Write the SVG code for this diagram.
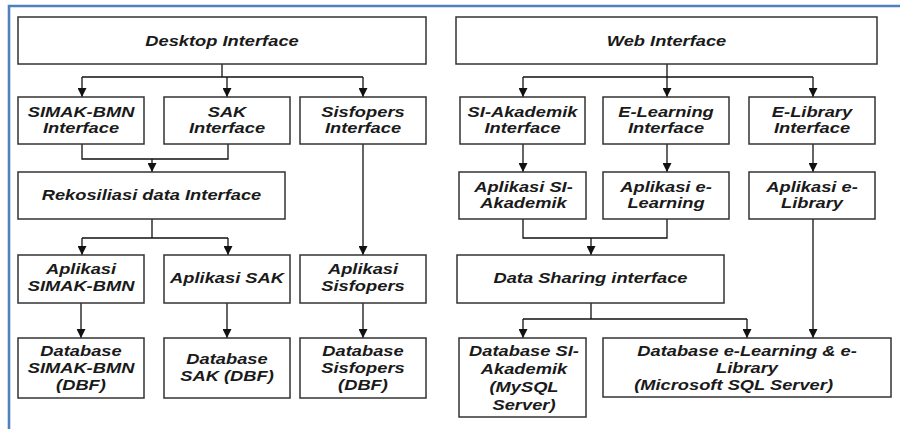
<svg xmlns="http://www.w3.org/2000/svg" width="900" height="429" viewBox="0 0 900 429">
<style>
.box{fill:#fff;stroke:#333;stroke-width:1.5}
.t{font-family:"Liberation Sans",Arial,sans-serif;font-size:15px;font-weight:bold;font-style:italic;fill:#1a1a1a;text-anchor:middle}
.c{fill:none;stroke:#111;stroke-width:1.3}
.a{fill:none;stroke:#111;stroke-width:1.3;marker-end:url(#ah)}
</style>
<defs>
<marker id="ah" markerUnits="userSpaceOnUse" markerWidth="9" markerHeight="9" refX="9" refY="4.5" orient="auto">
<path d="M0,0 L9,4.5 L0,9 z" fill="#111"/>
</marker>
</defs>
<rect width="900" height="429" fill="#fff"/>
<g id="frame">
<path d="M9,429 V6 H900" fill="none" stroke="#4f81bd" stroke-width="2.6"/>
</g>
<g id="connectors">
<path class="c" d="M222,64 V77 M82,77 H363"/>
<path class="a" d="M82,77 V97"/>
<path class="a" d="M227,77 V97"/>
<path class="a" d="M363,77 V97"/>
<path class="c" d="M82,144 V159 H228 V144"/>
<path class="a" d="M152,159 V172"/>
<path class="c" d="M152,219 V238 M82,238 H228"/>
<path class="a" d="M82,238 V255"/>
<path class="a" d="M228,238 V255"/>
<path class="a" d="M363,144 V255"/>
<path class="a" d="M81,303 V338"/>
<path class="a" d="M227,303 V338"/>
<path class="a" d="M363,303 V338"/>
<path class="c" d="M667,64 V77 M523,77 H813"/>
<path class="a" d="M523,77 V97"/>
<path class="a" d="M667,77 V97"/>
<path class="a" d="M813,77 V97"/>
<path class="a" d="M523,144 V172"/>
<path class="a" d="M667,144 V172"/>
<path class="a" d="M813,144 V172"/>
<path class="c" d="M523,219 V238 H667 V219"/>
<path class="a" d="M591,238 V255"/>
<path class="a" d="M813,219 V338"/>
<path class="c" d="M591,303 V319 M523,319 H747"/>
<path class="a" d="M523,319 V338"/>
<path class="a" d="M747,319 V338"/>
</g>
<g id="desktop">
<rect class="box" x="18" y="17" width="408" height="47"/>
<text class="t" transform="translate(222 46) scale(1.22 1)">Desktop Interface</text>
</g>
<g id="simak_if">
<rect class="box" x="18" y="97" width="126" height="47"/>
<text class="t" transform="translate(81 117) scale(1.22 1)"><tspan x="0">SIMAK-BMN</tspan><tspan x="0" dy="16.5">Interface</tspan></text>
</g>
<g id="sak_if">
<rect class="box" x="164" y="97" width="126" height="47"/>
<text class="t" transform="translate(227 117) scale(1.22 1)"><tspan x="0">SAK</tspan><tspan x="0" dy="16.5">Interface</tspan></text>
</g>
<g id="sisfopers_if">
<rect class="box" x="300" y="97" width="126" height="47"/>
<text class="t" transform="translate(363 117) scale(1.22 1)"><tspan x="0">Sisfopers</tspan><tspan x="0" dy="16.5">Interface</tspan></text>
</g>
<g id="rekon">
<rect class="box" x="18" y="172" width="267" height="47"/>
<text class="t" transform="translate(151.5 200) scale(1.22 1)">Rekosiliasi data Interface</text>
</g>
<g id="apl_simak">
<rect class="box" x="18" y="255" width="126" height="48"/>
<text class="t" transform="translate(81 273.5) scale(1.22 1)"><tspan x="0">Aplikasi</tspan><tspan x="0" dy="17.5">SIMAK-BMN</tspan></text>
</g>
<g id="apl_sak">
<rect class="box" x="164" y="255" width="126" height="48"/>
<text class="t" transform="translate(227 283) scale(1.22 1)">Aplikasi SAK</text>
</g>
<g id="apl_sisfopers">
<rect class="box" x="300" y="255" width="126" height="48"/>
<text class="t" transform="translate(363 273.5) scale(1.22 1)"><tspan x="0">Aplikasi</tspan><tspan x="0" dy="17.5">Sisfopers</tspan></text>
</g>
<g id="db_simak">
<rect class="box" x="18" y="338" width="126" height="60"/>
<text class="t" transform="translate(81 356) scale(1.22 1)"><tspan x="0">Database</tspan><tspan x="0" dy="16.8">SIMAK-BMN</tspan><tspan x="0" dy="16.8">(DBF)</tspan></text>
</g>
<g id="db_sak">
<rect class="box" x="164" y="338" width="126" height="60"/>
<text class="t" transform="translate(227 364) scale(1.22 1)"><tspan x="0">Database</tspan><tspan x="0" dy="17">SAK (DBF)</tspan></text>
</g>
<g id="db_sisfopers">
<rect class="box" x="300" y="338" width="126" height="60"/>
<text class="t" transform="translate(363 356) scale(1.22 1)"><tspan x="0">Database</tspan><tspan x="0" dy="16.8">Sisfopers</tspan><tspan x="0" dy="16.8">(DBF)</tspan></text>
</g>
<g id="web">
<rect class="box" x="456" y="17" width="421" height="47"/>
<text class="t" transform="translate(666.5 46) scale(1.22 1)">Web Interface</text>
</g>
<g id="siak_if">
<rect class="box" x="460" y="97" width="125" height="47"/>
<text class="t" transform="translate(522.5 117) scale(1.22 1)"><tspan x="0">SI-Akademik</tspan><tspan x="0" dy="16.5">Interface</tspan></text>
</g>
<g id="elearning_if">
<rect class="box" x="603" y="97" width="126" height="47"/>
<text class="t" transform="translate(666 117) scale(1.22 1)"><tspan x="0">E-Learning</tspan><tspan x="0" dy="16.5">Interface</tspan></text>
</g>
<g id="elibrary_if">
<rect class="box" x="749" y="97" width="126" height="47"/>
<text class="t" transform="translate(812 117) scale(1.22 1)"><tspan x="0">E-Library</tspan><tspan x="0" dy="16.5">Interface</tspan></text>
</g>
<g id="apl_siak">
<rect class="box" x="459" y="172" width="127" height="47"/>
<text class="t" transform="translate(523.5 192) scale(1.22 1)"><tspan x="0">Aplikasi SI-</tspan><tspan x="0" dy="16.5">Akademik</tspan></text>
</g>
<g id="apl_elearning">
<rect class="box" x="603" y="172" width="126" height="47"/>
<text class="t" transform="translate(666 192) scale(1.22 1)"><tspan x="0">Aplikasi e-</tspan><tspan x="0" dy="16.5">Learning</tspan></text>
</g>
<g id="apl_elibrary">
<rect class="box" x="749" y="172" width="126" height="47"/>
<text class="t" transform="translate(812 192) scale(1.22 1)"><tspan x="0">Aplikasi e-</tspan><tspan x="0" dy="16.5">Library</tspan></text>
</g>
<g id="datasharing">
<rect class="box" x="457" y="255" width="267" height="48"/>
<text class="t" transform="translate(590.5 283) scale(1.22 1)">Data Sharing interface</text>
</g>
<g id="db_siak">
<rect class="box" x="459" y="338" width="127" height="79"/>
<text class="t" transform="translate(524 356) scale(1.22 1)"><tspan x="0">Database SI-</tspan><tspan x="0" dy="18">Akademik</tspan><tspan x="0" dy="18">(MySQL</tspan><tspan x="0" dy="18">Server)</tspan></text>
</g>
<g id="db_elearning">
<rect class="box" x="603" y="338" width="288" height="59"/>
<text class="t" transform="translate(747 356) scale(1.22 1)"><tspan x="0">Database e-Learning &amp; e-</tspan><tspan x="0" dy="16.8">Library</tspan><tspan x="-11" dy="16.8">(Microsoft SQL Server)</tspan></text>
</g>
</svg>
